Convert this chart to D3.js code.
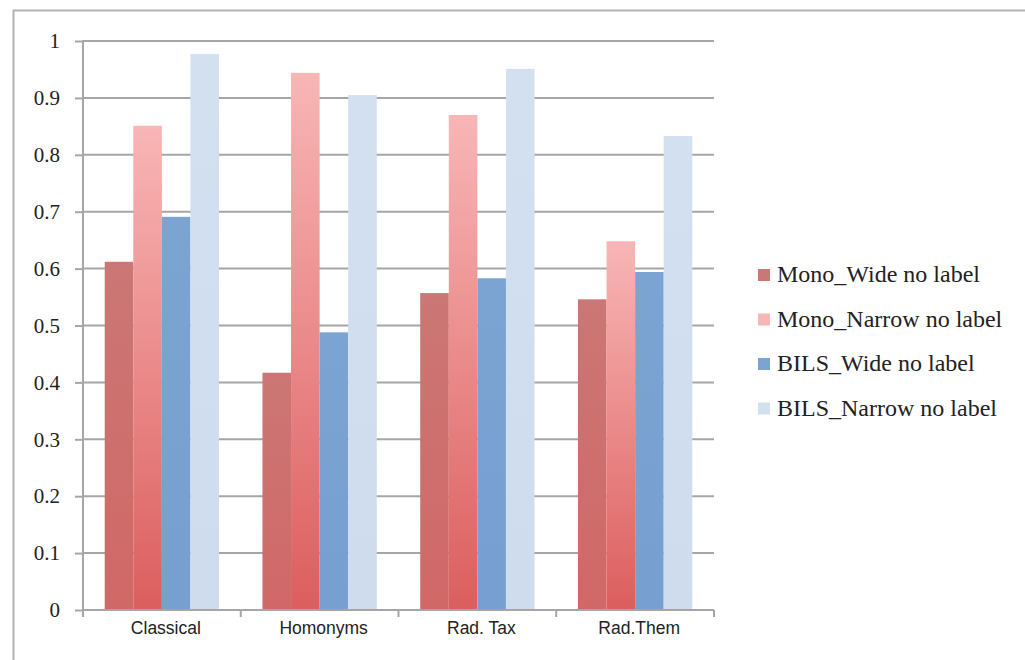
<!DOCTYPE html>
<html>
<head>
<meta charset="utf-8">
<script src="https://cdn.jsdelivr.net/npm/d3@7"></script>
<style>
  body { margin: 0; background: #fff; }
  svg { display: block; }
</style>
</head>
<body>
<div id="chart"></div>
<script>
const categories = ["Classical", "Homonyms", "Rad. Tax", "Rad.Them"];
const seriesNames = ["Mono_Wide no label", "Mono_Narrow no label", "BILS_Wide no label", "BILS_Narrow no label"];
const monoWide = [0.612, 0.417, 0.557, 0.546];
const monoNarrow = [0.851, 0.944, 0.870, 0.648];
const bilsWide = [0.691, 0.488, 0.583, 0.594];
const bilsNarrow = [0.977, 0.905, 0.951, 0.833];
const yTicks = [0, 0.1, 0.2, 0.3, 0.4, 0.5, 0.6, 0.7, 0.8, 0.9, 1];

const values = [monoWide, monoNarrow, bilsWide, bilsNarrow];
const colors = [
  ["#cb7775", "#d06866"],
  ["#f8b6b6", "#dc5e5e"],
  ["#7ba4d3", "#77a0d0"],
  ["#d2e0f0", "#cedcee"]
];

const w = 1025, h = 660;
const margin = { top: 41, right: 311, bottom: 50, left: 83 };

const svg = d3.select("#chart").append("svg")
  .attr("width", w)
  .attr("height", h);

// gradients for each series
const defs = svg.append("defs");
colors.forEach(function (c, i) {
  const g = defs.append("linearGradient")
    .attr("id", "grad" + i)
    .attr("x1", 0).attr("y1", 0).attr("x2", 0).attr("y2", 1);
  g.append("stop").attr("offset", "0%").attr("stop-color", c[0]);
  g.append("stop").attr("offset", "100%").attr("stop-color", c[1]);
});

// outer frame
svg.append("path")
  .attr("d", "M13.5," + h + " V10.5 H" + w)
  .attr("fill", "none")
  .attr("stroke", "#b3b3b3")
  .attr("stroke-width", 2);

const x0 = d3.scaleBand()
  .domain(categories)
  .range([margin.left, w - margin.right])
  .padding(0);

const x1 = d3.scaleBand()
  .domain(d3.range(seriesNames.length))
  .range([0, x0.bandwidth()])
  .paddingInner(0)
  .paddingOuter(0.76);

const y = d3.scaleLinear()
  .domain([0, 1])
  .range([h - margin.bottom, margin.top]);

// gridlines + y axis ticks
const yAxis = d3.axisLeft(y)
  .tickValues(yTicks)
  .tickSize(8)
  .tickFormat(d3.format("~g"));

const yGrid = svg.append("g")
  .attr("transform", `translate(${margin.left},0)`);
yGrid.selectAll("line")
  .data(yTicks.filter(d => d > 0))
  .enter()
  .append("line")
  .attr("x1", 0)
  .attr("x2", w - margin.right - margin.left)
  .attr("y1", d => y(d))
  .attr("y2", d => y(d))
  .attr("stroke", "#a6a6a6")
  .attr("stroke-width", 2);

const gy = svg.append("g")
  .attr("transform", `translate(${margin.left},0)`)
  .call(yAxis)
  .attr("font-family", null)
  .attr("font-size", null);
gy.select(".domain").remove();
gy.selectAll(".tick line").attr("stroke", "#a6a6a6").attr("stroke-width", 2);
gy.selectAll(".tick text")
  .attr("x", -23)
  .style("font-family", "'Liberation Serif', 'Times New Roman', serif")
  .style("font-size", "21px")
  .attr("fill", "#222");

// bars
const groups = svg.append("g")
  .selectAll("g")
  .data(categories)
  .enter()
  .append("g")
  .attr("transform", d => `translate(${x0(d)},0)`);

groups.selectAll("rect")
  .data((d, ci) => values.map((s, si) => ({ si: si, v: s[ci] })))
  .enter()
  .append("rect")
  .attr("x", d => x1(d.si))
  .attr("y", d => y(d.v))
  .attr("width", x1.bandwidth())
  .attr("height", d => y(0) - y(d.v))
  .attr("fill", d => "url(#grad" + d.si + ")");

// y axis line
svg.append("line")
  .attr("x1", margin.left).attr("x2", margin.left)
  .attr("y1", y(1) - 1).attr("y2", y(0) + 7)
  .attr("stroke", "#a6a6a6")
  .attr("stroke-width", 2);

// x axis
const xAxis = d3.axisBottom(x0).tickSize(0).tickPadding(12);
const gx = svg.append("g")
  .attr("transform", `translate(0,${y(0)})`)
  .call(xAxis);
gx.select(".domain").attr("stroke", "#a6a6a6").attr("stroke-width", 2)
  .attr("d", `M${margin.left},0H${w - margin.right}`);
gx.selectAll(".tick text")
  .attr("dx", 4)
  .style("font-family", "'Liberation Sans', Arial, sans-serif")
  .style("font-size", "17.5px")
  .attr("fill", "#222");

gx.selectAll(".sep")
  .data(categories.slice(1).concat(["end"]))
  .enter()
  .append("line")
  .attr("x1", (d, i) => i < categories.length - 1 ? x0(d) : w - margin.right)
  .attr("x2", (d, i) => i < categories.length - 1 ? x0(d) : w - margin.right)
  .attr("y1", 0)
  .attr("y2", 7)
  .attr("stroke", "#a6a6a6")
  .attr("stroke-width", 2);

// legend
const legend = svg.append("g")
  .attr("transform", "translate(758,275)");

const item = legend.selectAll("g")
  .data(seriesNames)
  .enter()
  .append("g")
  .attr("transform", (d, i) => `translate(0,${i * 44.5})`);

item.append("rect")
  .attr("x", 0).attr("y", -6)
  .attr("width", 12).attr("height", 12)
  .attr("fill", (d, i) => colors[i][0]);

item.append("text")
  .attr("x", 19)
  .attr("y", 7)
  .style("font-family", "'Liberation Serif', 'Times New Roman', serif")
  .style("font-size", "24px")
  .attr("fill", "#222")
  .text(d => d);
</script>
</body>
</html>
